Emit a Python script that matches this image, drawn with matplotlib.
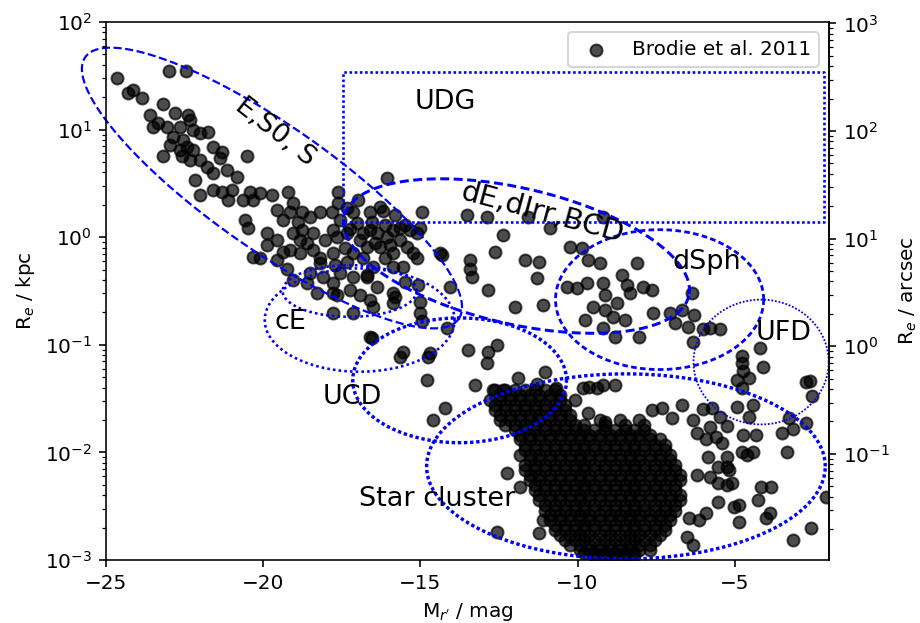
import numpy as np
import matplotlib.pyplot as plt

# distance used for the arcsec axis
DIST_MPC = 20.0
ARCSEC_PER_KPC = 206.265 / DIST_MPC

# Brodie et al. 2011 catalogue: (M_r' [mag], log10 R_e [kpc])
giants = [
    (-24.65, 1.48), (-24.30, 1.34), (-24.14, 1.37), (-23.86, 1.29), (-23.00, 1.54), (-22.46, 1.54),
    (-23.19, 1.24), (-23.60, 1.14), (-23.51, 1.02), (-23.35, 1.06), (-23.06, 1.02), (-22.81, 1.15),
    (-22.40, 1.14), (-22.65, 1.02), (-22.33, 1.09), (-22.87, 0.93), (-22.55, 0.90), (-22.24, 1.00),
    (-22.02, 0.97), (-21.76, 0.98), (-22.97, 0.86), (-22.65, 0.81), (-22.43, 0.84), (-22.24, 0.81),
    (-21.60, 0.84), (-21.32, 0.79), (-22.59, 0.75), (-22.33, 0.72), (-22.02, 0.72), (-21.79, 0.65),
    (-21.38, 0.74), (-23.19, 0.75), (-20.53, 0.75), (-21.16, 0.62), (-20.84, 0.56), (-21.60, 0.60),
    (-22.17, 0.53), (-21.60, 0.44), (-21.32, 0.42), (-22.02, 0.39), (-21.00, 0.44), (-20.43, 0.42),
    (-20.11, 0.41), (-20.65, 0.35), (-20.33, 0.35), (-21.13, 0.35), (-20.59, 0.16), (-20.49, 0.09),
    (-20.11, -0.19), (-19.73, 0.39), (-19.22, 0.42), (-19.57, 0.25), (-19.06, 0.32), (-19.16, 0.23),
    (-18.78, 0.23), (-19.38, 0.16), (-18.90, 0.14), (-18.52, 0.19), (-18.20, 0.23), (-17.82, 0.23),
    (-17.63, 0.42), (-17.63, 0.32), (-17.34, 0.27), (-16.99, 0.35), (-16.07, 0.55), (-16.29, 0.28),
    (-16.61, 0.23), (-16.55, 0.14), (-14.96, 0.23), (-14.32, -0.17), (-14.07, -0.46), (-19.88, 0.04),
    (-19.57, -0.03), (-19.88, -0.07), (-19.38, -0.14), (-19.06, 0.04), (-18.75, 0.07), (-18.43, 0.04),
    (-18.62, -0.05), (-18.84, -0.15), (-18.43, -0.12), (-18.20, -0.19), (-17.79, -0.15), (-17.66, 0.00),
    (-17.34, 0.04), (-17.41, -0.10), (-17.15, -0.15), (-16.71, -0.09), (-16.39, 0.04), (-16.83, 0.04),
    (-16.07, 0.00), (-15.88, 0.07), (-15.66, -0.03), (-15.43, -0.09), (-15.24, -0.15), (-15.12, -0.19),
    (-15.88, -0.15), (-16.29, -0.09), (-16.52, -0.28), (-16.71, -0.35), (-15.88, -0.28), (-15.56, -0.28),
    (-15.50, -0.42), (-15.81, -0.56), (-15.02, -0.60), (-15.08, -0.44), (-19.25, -0.30), (-19.06, -0.40),
    (-18.52, -0.33), (-18.20, -0.24), (-18.11, -0.37), (-17.79, -0.43), (-17.79, -0.52), (-17.25, -0.49),
    (-16.93, -0.54), (-16.61, -0.58), (-16.39, -0.46), (-16.71, -0.37), (-17.15, -0.37), (-17.56, -0.33),
    (-17.79, -0.70), (-17.15, -0.70), (-16.52, -0.65), (-15.88, -0.52), (-18.30, -0.52), (-18.62, -0.43),
    (-19.57, -0.21), (-20.33, -0.18), (-17.15, 0.23), (-17.02, 0.13), (-17.79, 0.07), (-15.66, 0.09),
    (-15.34, 0.07), (-15.12, 0.04), (-17.56, 0.16), (-17.25, 0.08), (-16.93, -0.03), (-16.61, 0.07),
    (-16.45, -0.05), (-16.13, 0.11), (-15.97, -0.07), (-15.81, 0.21), (-16.20, 0.24), (-16.83, -0.19),
    (-16.13, -0.19), (-15.50, 0.11), (-17.34, -0.23), (-17.72, -0.26), (-18.04, -0.03), (-18.84, -0.03),
    (-19.16, -0.12), (-15.88, -0.61), (-14.96, -0.78), (-14.16, -0.84), (-16.55, -0.94), (-15.56, -1.07),
    (-15.66, -1.11), (-14.70, -1.08), (-14.76, -1.11), (-14.80, -1.33), (-14.22, -1.59), (-14.60, -1.70),
    (-15.02, 0.09), (-14.38, -0.15), (-13.49, -1.05), (-13.43, -0.30), (-13.37, -0.37), (-16.61, -0.93),
    (-17.66, -0.54),
]

dwarfs = [
    (-13.53, 0.21), (-12.89, 0.19), (-12.38, 0.02), (-13.43, -0.21), (-12.64, -0.14), (-11.68, -0.21),
    (-11.21, -0.23), (-11.30, -0.38), (-12.86, -0.49), (-12.00, -0.65), (-11.11, -0.63), (-11.56, 0.19),
    (-10.89, 0.09), (-9.20, 0.19), (-10.25, -0.09), (-9.87, -0.10), (-9.68, -0.21), (-9.30, -0.24),
    (-8.12, -0.24), (-10.32, -0.46), (-10.03, -0.47), (-9.71, -0.43), (-9.20, -0.43), (-9.14, -0.54),
    (-8.60, -0.35), (-8.44, -0.44), (-8.34, -0.52), (-7.93, -0.46), (-7.64, -0.49), (-9.52, -0.65),
    (-9.77, -0.77), (-9.14, -0.68), (-8.76, -0.61), (-8.88, -0.74), (-8.50, -0.77), (-9.20, -0.84),
    (-8.82, -0.93), (-8.03, -0.93), (-7.61, -0.70), (-7.07, -0.70), (-6.69, -0.68), (-6.37, -0.52),
    (-6.28, -0.72), (-6.50, -0.83), (-6.34, -0.97), (-6.91, -0.80), (-15.02, -0.70), (-12.86, -1.07),
    (-12.57, -1.00), (-5.80, -0.84), (-5.48, -0.85), (-6.02, -0.85), (-4.78, -1.10), (-4.78, -1.17),
    (-4.75, -1.24), (-4.53, -1.31), (-4.21, -1.03), (-4.11, -1.21), (-2.60, -1.34), (-2.72, -1.35),
    (-2.53, -1.48), (-2.72, -1.73), (-3.16, -1.78),
]

clusters_outer = [
    (-12.89, -1.17), (-13.27, -1.37), (-11.90, -1.31), (-11.04, -1.25), (-10.67, -1.40), (-9.84, -1.40),
    (-9.39, -1.40), (-9.20, -1.37), (-8.82, -1.37), (-9.62, -1.39), (-10.09, -1.51), (-9.68, -1.63),
    (-9.14, -1.72), (-12.70, -1.42), (-12.38, -1.42), (-11.30, -1.36), (-7.64, -1.61), (-7.32, -1.59),
    (-6.69, -1.56), (-7.01, -1.68), (-6.02, -1.60), (-5.71, -1.59), (-5.48, -1.67), (-5.25, -1.75),
    (-4.94, -1.58), (-4.43, -1.56), (-4.53, -1.67), (-4.75, -1.84), (-5.80, -1.76), (-6.34, -1.70),
    (-6.21, -1.82), (-5.90, -1.88), (-5.58, -1.86), (-5.39, -1.91), (-5.26, -2.04), (-4.78, -2.00),
    (-5.26, -2.14), (-4.62, -2.02), (-4.43, -2.00), (-5.86, -2.04), (-6.21, -2.21), (-5.54, -2.14),
    (-5.54, -2.28), (-5.17, -2.16), (-5.26, -2.30), (-5.10, -2.28), (-4.15, -2.32), (-3.83, -2.32),
    (-4.26, -2.44), (-3.89, -2.56), (-3.99, -2.61), (-3.16, -2.81), (-2.56, -2.70), (-2.08, -2.41),
    (-4.85, -2.49), (-5.01, -2.51), (-5.54, -2.46), (-5.90, -2.56), (-6.12, -2.63), (-6.44, -2.61),
    (-6.53, -2.79), (-6.34, -2.86), (-3.35, -2.00), (-3.48, -1.82), (-3.26, -1.68), (-4.31, -1.84),
    (-4.78, -1.40), (-4.94, -1.33), (-12.57, -2.74), (-12.25, -2.19), (-11.84, -2.32), (-11.21, -2.75),
    (-11.11, -2.63), (-4.85, -2.65), (-5.80, -2.23),
]

# dense globular-cluster core, one row per log10 R_e
clusters_core = [
    (-1.42, [-12.64, -12.32, -12.00, -11.68, -11.36, -11.05, -10.73]),
    (-1.465, [-12.48, -12.16, -11.84, -11.52, -11.21, -10.89, -10.57]),
    (-1.51, [-12.79, -12.48, -12.16, -11.84, -11.52, -11.21, -10.89, -10.57]),
    (-1.56, [-12.64, -12.32, -12.00, -11.68, -11.36, -11.05, -10.73, -10.41]),
    (-1.61, [-12.64, -12.32, -12.00, -11.68, -11.36, -11.05, -10.73, -10.41]),
    (-1.655, [-12.48, -12.16, -11.84, -11.52, -11.21, -10.89, -10.57, -10.25]),
    (-1.70, [-12.48, -12.16, -11.84, -11.52, -11.21, -10.89, -10.57, -10.25, -9.30, -8.66, -8.03]),
    (-1.745, [-12.32, -12.00, -11.68, -11.36, -11.05, -10.73, -10.41, -10.09, -9.78, -9.14, -8.50,
              -7.87]),
    (-1.79, [-12.00, -11.68, -11.36, -11.05, -10.73, -10.41, -10.09, -9.78, -9.46, -9.14, -8.82,
             -8.50, -8.19, -7.87]),
    (-1.835, [-11.84, -11.52, -11.21, -10.89, -10.57, -10.25, -9.93, -9.62, -9.30, -8.98, -8.66,
              -8.34, -8.03, -7.71]),
    (-1.88, [-11.84, -11.52, -11.21, -10.89, -10.57, -10.25, -9.93, -9.62, -9.30, -8.98, -8.66,
             -8.34, -8.03, -7.71, -7.39]),
    (-1.93, [-11.68, -11.36, -11.05, -10.73, -10.41, -10.09, -9.78, -9.46, -9.14, -8.82, -8.50,
             -8.19, -7.87, -7.55, -7.23]),
    (-1.98, [-11.68, -11.36, -11.05, -10.73, -10.41, -10.09, -9.78, -9.46, -9.14, -8.82, -8.50,
             -8.19, -7.87, -7.55, -7.23]),
    (-2.025, [-11.84, -11.52, -11.21, -10.89, -10.57, -10.25, -9.93, -9.62, -9.30, -8.98, -8.66,
              -8.34, -8.03, -7.71, -7.39, -7.07]),
    (-2.07, [-11.52, -11.21, -10.89, -10.57, -10.25, -9.93, -9.62, -9.30, -8.98, -8.66, -8.34,
             -8.03, -7.71, -7.39, -7.07]),
    (-2.115, [-11.68, -11.36, -11.05, -10.73, -10.41, -10.09, -9.78, -9.46, -9.14, -8.82, -8.50,
              -8.19, -7.87, -7.55, -7.23, -6.91]),
    (-2.16, [-11.68, -11.36, -11.05, -10.73, -10.41, -10.09, -9.78, -9.46, -9.14, -8.82, -8.50,
             -8.19, -7.87, -7.55, -7.23, -6.91]),
    (-2.21, [-11.52, -11.21, -10.89, -10.57, -10.25, -9.93, -9.62, -9.30, -8.98, -8.66, -8.34,
             -8.03, -7.71, -7.39, -7.07, -6.75]),
    (-2.26, [-11.52, -11.21, -10.89, -10.57, -10.25, -9.93, -9.62, -9.30, -8.98, -8.66, -8.34,
             -8.03, -7.71, -7.39, -7.07, -6.75]),
    (-2.305, [-11.36, -11.05, -10.73, -10.41, -10.09, -9.78, -9.46, -9.14, -8.82, -8.50, -8.19,
              -7.87, -7.55, -7.23, -6.91]),
    (-2.35, [-11.36, -11.05, -10.73, -10.41, -10.09, -9.78, -9.46, -9.14, -8.82, -8.50, -8.19,
             -7.87, -7.55, -7.23, -6.91]),
    (-2.395, [-11.21, -10.89, -10.57, -10.25, -9.93, -9.62, -9.30, -8.98, -8.66, -8.34, -8.03,
              -7.71, -7.39, -7.07, -6.75]),
    (-2.44, [-11.21, -10.89, -10.57, -10.25, -9.93, -9.62, -9.30, -8.98, -8.66, -8.34, -8.03,
             -7.71, -7.39, -7.07, -6.75]),
    (-2.49, [-11.05, -10.73, -10.41, -10.09, -9.78, -9.46, -9.14, -8.82, -8.50, -8.19, -7.87,
             -7.55, -7.23, -6.91]),
    (-2.54, [-11.05, -10.73, -10.41, -10.09, -9.78, -9.46, -9.14, -8.82, -8.50, -8.19, -7.87,
             -7.55, -7.23, -6.91]),
    (-2.585, [-10.89, -10.57, -10.25, -9.93, -9.62, -9.30, -8.98, -8.66, -8.34, -8.03, -7.71,
              -7.39, -7.07]),
    (-2.63, [-10.89, -10.57, -10.25, -9.93, -9.62, -9.30, -8.98, -8.66, -8.34, -8.03, -7.71,
             -7.39, -7.07]),
    (-2.675, [-10.73, -10.41, -10.09, -9.78, -9.46, -9.14, -8.82, -8.50, -8.19, -7.87, -7.55, -7.23]),
    (-2.72, [-10.73, -10.41, -10.09, -9.78, -9.46, -9.14, -8.82, -8.50, -8.19, -7.87, -7.55, -7.23]),
    (-2.765, [-10.57, -10.25, -9.93, -9.62, -9.30, -8.98, -8.66, -8.34, -8.03, -7.71, -7.39]),
    (-2.81, [-10.41, -10.09, -9.78, -9.46, -9.14, -8.82, -8.50, -8.19, -7.87, -7.55]),
    (-2.86, [-10.25, -9.93, -9.62, -9.30, -8.98, -8.66, -8.34, -8.03, -7.71]),
    (-2.91, [-9.93, -9.62, -9.30, -8.98, -8.66, -8.34, -8.03, -7.71]),
    (-2.935, [-9.78, -9.46, -9.14, -8.82, -8.50, -8.19]),
    (-2.96, [-9.46, -9.14, -8.82, -8.50, -8.19]),
]

# UDG box: magnitude range and R_e range (kpc)
udg_mag = [-17.47, -2.15]
udg_re = [1.38, 34.0]

# class regions in (mag, log10 R_e): centre, first and second semi-axis vectors
regions = [
    dict(c=(-19.72, 0.457), u=(5.94, -1.216), v=(-1.13, -0.472), ls='--', lw=1.1),          # E,S0,S
    dict(c=(-11.94, -0.175), u=(5.48, -0.370), v=(-0.486, -0.615), ls=(0, (3, 1.5)), lw=1.5),  # dE
    dict(c=(-7.39, -0.58), u=(3.31, 0.0), v=(0.0, 0.65), ls=(0, (2, 1.2)), lw=1.4),         # dSph
    dict(c=(-4.16, -1.16), u=(2.15, 0.0), v=(0.0, 0.58), ls=(0, (1, 1)), lw=0.9),           # UFD
    dict(c=(-16.93, -0.77), u=(3.02, 0.0), v=(0.0, 0.48), ls=(0, (1, 1.2)), lw=1.3),        # cE
    dict(c=(-17.25, -0.50), u=(2.13, 0.0), v=(0.0, 0.24), ls=(0, (1, 1.2)), lw=1.3),
    dict(c=(-13.75, -1.33), u=(3.40, 0.0), v=(0.0, 0.58), ls=(0, (1, 0.8)), lw=1.7),        # UCD
    dict(c=(-8.46, -2.13), u=(6.34, 0.0), v=(0.0, 0.86), ls=(0, (1, 0.8)), lw=1.7),         # star clusters
]

labels = ["E,S0, S", "dE,dIrr,BCD", "UDG", "dSph", "UFD", "cE", "UCD", "Star cluster"]
label_mag = [-19.63, -11.11, -14.22, -5.90, -3.45, -19.12, -17.18, -14.45]
label_logre = [0.978, 0.225, 1.256, -0.23, -0.89, -0.79, -1.485, -2.43]
label_rot = [-38, -15, 0, 0, 0, 0, 0, 0]
label_size = [13.5, 14.5, 13.5, 13.5, 13.5, 13.5, 13.5, 13.5]


def draw_region(ax, c, u, v, ls, lw):
    t = np.linspace(0, 2 * np.pi, 400)
    m = c[0] + u[0] * np.cos(t) + v[0] * np.sin(t)
    lr = c[1] + u[1] * np.cos(t) + v[1] * np.sin(t)
    ax.plot(m, 10 ** lr, color='b', ls=ls, lw=lw, clip_on=False)


mag = [p[0] for p in giants + dwarfs + clusters_outer]
logre = [p[1] for p in giants + dwarfs + clusters_outer]
for lr, row in clusters_core:
    mag += row
    logre += [lr] * len(row)
re_kpc = 10 ** np.array(logre)

DPI = 144
fig = plt.figure(figsize=(920 / DPI, 623 / DPI), dpi=DPI)
ax = fig.add_axes([0.1152, 0.1011, 0.7859, 0.8636])

ax.scatter(mag, re_kpc, s=36, c='k', alpha=0.7, label='Brodie et al. 2011', zorder=2)

for r in regions:
    draw_region(ax, **r)

ax.plot([udg_mag[0], udg_mag[0], udg_mag[1], udg_mag[1], udg_mag[0]],
        [udg_re[0], udg_re[1], udg_re[1], udg_re[0], udg_re[0]],
        color='b', ls=(0, (1, 1)), lw=1.3)

for txt, m, lr, rot, fs in zip(labels, label_mag, label_logre, label_rot, label_size):
    ax.text(m, 10 ** lr, txt, fontsize=fs, ha='center', va='center',
            rotation=rot, rotation_mode='anchor')

ax.set_yscale('log')
ax.set_xlim(-25, -2)
ax.set_ylim(1e-3, 1e2)
ax.set_xticks([-25, -20, -15, -10, -5])
ax.set_xlabel("M$_{r'}$ / mag")
ax.set_ylabel("R$_e$ / kpc")
ax.legend(loc='upper right')

sec = ax.secondary_yaxis('right', functions=(lambda r: r * ARCSEC_PER_KPC,
                                             lambda a: a / ARCSEC_PER_KPC))
sec.set_yticks([1e-1, 1e0, 1e1, 1e2, 1e3])
sec.set_ylabel("R$_e$ / arcsec")

fig.savefig('out.png', dpi=DPI)
